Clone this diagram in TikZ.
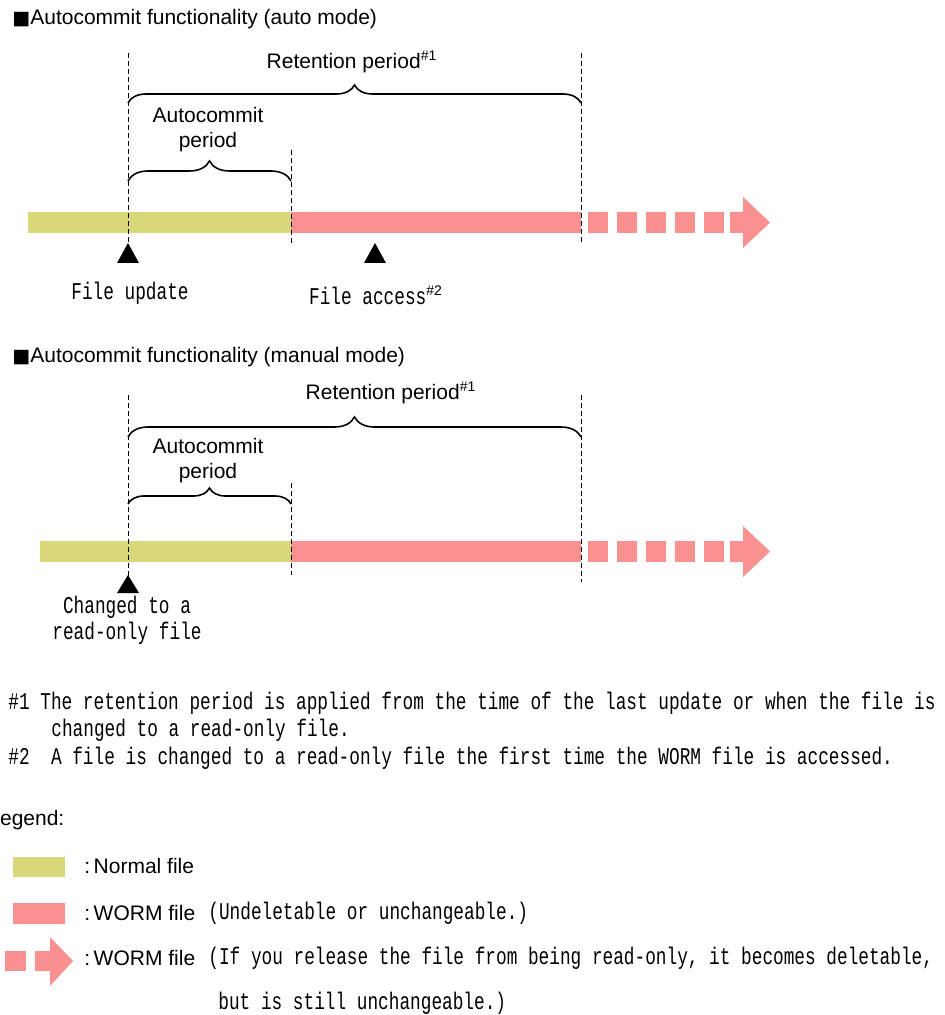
\documentclass[tikz,border=0pt]{standalone}
\usepackage{fontspec}
\setmainfont{Liberation Sans}
\newfontfamily\condmono[FakeStretch=0.74]{Liberation Mono}
\newfontfamily\boxfont{DejaVu Sans}
\usetikzlibrary{decorations.pathreplacing}

\definecolor{normalc}{RGB}{216,216,122}
\definecolor{wormc}{RGB}{249,145,145}

\newcommand{\notemark}[1]{\textsuperscript{\normalfont\fontsize{7}{7}\selectfont\##1}}
\newcommand{\headbox}{{\boxfont\fontsize{9.5}{9.5}\selectfont ■}}

\tikzset{
  guide/.style={dash pattern=on 2.5pt off 1.5pt, line width=0.5pt},
  brc/.style={decorate, decoration={brace, amplitude=#1}, line width=0.8pt},
  sanslabel/.style={font=\fontsize{10.5}{12.5}\selectfont, inner sep=0pt},
  monolabel/.style={font=\fontsize{12}{13}\selectfont\condmono, inner sep=0pt},
}

\begin{document}
\begin{tikzpicture}[x=0.5pt,y=-0.5pt]
  \clip (0,0) rectangle (944,1015);

  % auto mode
  \node[sanslabel, anchor=west] (title1) at (12,19) {\headbox Autocommit functionality (auto mode)};
  \node[sanslabel] (ret1) at (352,62) {Retention period\notemark{1}};
  \node[sanslabel, align=center] (acp1) at (208,129.5) {Autocommit\\period};

  % manual mode
  \node[sanslabel, anchor=west] (title2) at (12,357) {\headbox Autocommit functionality (manual mode)};
  \node[sanslabel] (ret2) at (391,393) {Retention period\notemark{1}};
  \node[sanslabel, align=center] (acp2) at (208,460.5) {Autocommit\\period};

  % bars: normal part, worm part, then the dashed tail with its head
  \foreach \ry/\gx in {212/28, 541/40} {
    \fill[normalc] (\gx,\ry) rectangle (291,{\ry+21});
    \fill[wormc] (291,\ry) rectangle (581,{\ry+21});
    \foreach \sx in {588,617,646,675,704}
      \fill[wormc] (\sx,\ry) rectangle ++(20,21);
    \fill[wormc] (730,\ry) -- ++(13,0) -- ++(0,-15) -- ++(27,25.5) -- ++(-27,25.5)
      -- ++(0,-15) -- ++(-13,0) -- cycle;
  }

  \foreach \gx/\gt/\gb in {128/53/245, 291/150/245, 581/53/243,
                           128/395/577, 291/483/575, 581/395/582}
    \draw[guide] (\gx,\gt) -- (\gx,\gb);

  \draw[brc=9pt] (128,103) -- (581,103);
  \draw[brc=10pt] (128,181) -- (291,181);
  \draw[brc=10pt] (128,437) -- (581,437);
  \draw[brc=8pt] (128,504) -- (291,504);

  % markers
  \fill (128,243) -- (139,263) -- (117,263) -- cycle;
  \fill (375,243) -- (386,263) -- (364,263) -- cycle;
  \fill (128,575) -- (139,593) -- (117,593) -- cycle;
  \node[monolabel] (upd) at (130,293) {File update};
  \node[monolabel] (acc) at (376,295) {File access\notemark{2}};
  \node[monolabel, align=center] (chg) at (127,620) {Changed to a\\read-only file};

  % notes
  \node[monolabel, anchor=west] (n1a) at (8,703) {\#1 The retention period is applied from the time of the last update or when the file is};
  \node[monolabel, anchor=west] (n1b) at (51,730) {changed to a read-only file.};
  \node[monolabel, anchor=west] (n2) at (8,758) {\#2~~A file is changed to a read-only file the first time the WORM file is accessed.};

  % legend
  \node[sanslabel, anchor=west] (leg) at (-12,820) {Legend:};
  \fill[normalc] (13,857) rectangle (65,877);
  \node[sanslabel, anchor=west] (lnorm) at (84,866) {:\,Normal file};
  \fill[wormc] (13,903) rectangle (65,924);
  \node[sanslabel, anchor=west] (lworm) at (84,913) {:\,WORM file};
  \node[monolabel, anchor=west] (lwormt) at (208,913) {(Undeletable or unchangeable.)};
  \fill[wormc] (5,951) rectangle (26,971);
  \fill[wormc] (35,951) -- (50,951) -- (50,937) -- (73,961) -- (50,986) -- (50,971) -- (35,971) -- cycle;
  \node[sanslabel, anchor=west] (lrel) at (84,958) {:\,WORM file};
  \node[monolabel, anchor=west] (lrelt) at (208,958) {(If you release the file from being read-only, it becomes deletable,};
  \node[monolabel, anchor=west] (lrelt2) at (218,1003) {but is still unchangeable.)};
\end{tikzpicture}
\end{document}
